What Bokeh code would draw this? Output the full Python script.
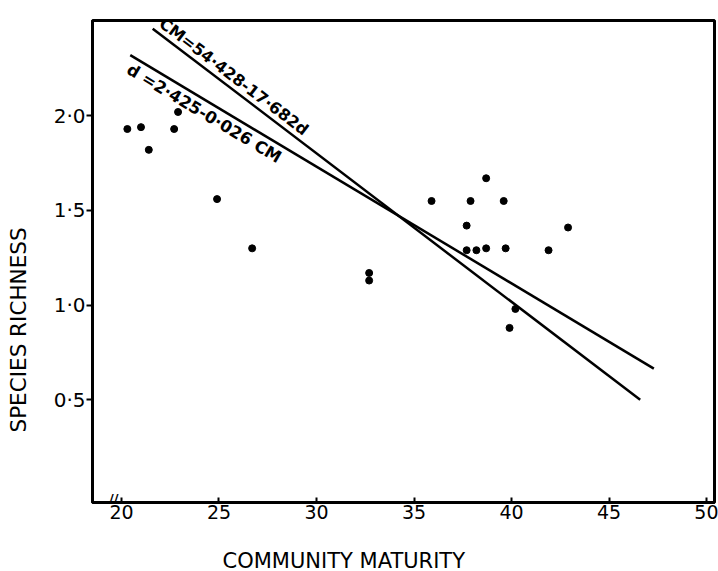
import math
from bokeh.plotting import figure
from bokeh.models import Range1d, FixedTicker, Label, ColumnDataSource, Title
from bokeh.embed import file_html
from bokeh.resources import INLINE

# ---- data ----
community_maturity = [20.3, 21.0, 21.4, 22.9, 22.7, 24.9, 26.7, 32.7, 32.7,
                      35.9, 37.9, 38.7, 39.6, 37.7, 37.7, 38.2, 38.7, 39.7,
                      41.9, 42.9, 40.2, 39.9]
species_richness = [1.93, 1.94, 1.82, 2.02, 1.93, 1.56, 1.30, 1.17, 1.13,
                    1.55, 1.55, 1.67, 1.55, 1.42, 1.29, 1.29, 1.30, 1.30,
                    1.29, 1.41, 0.98, 0.88]

# regression lines (end points)
cm_line_x = [21.6, 46.6]
cm_line_y = [2.46, 0.50]
d_line_x = [20.45, 47.3]
d_line_y = [2.32, 0.665]

cm_eq = "CM=54·428-17·682d"
d_eq = "d =2·425-0·026 CM"

x_ticks = [20, 25, 30, 35, 40, 45, 50]
y_ticks = [0.5, 1.0, 1.5, 2.0]
y_tick_labels = {0.5: "0·5", 1.0: "1·0", 1.5: "1·5", 2.0: "2·0"}

x_title = "COMMUNITY MATURITY"
y_title = "SPECIES RICHNESS"

# ---- figure ----
X0, X1 = 18.513, 50.41
Y0, Y1 = -0.042, 2.503
FW, FH = 622, 482

p = figure(frame_width=FW, frame_height=FH,
           x_range=Range1d(X0, X1), y_range=Range1d(Y0, Y1),
           output_backend="svg", toolbar_location=None,
           min_border_left=92, min_border_right=4,
           min_border_top=20, min_border_bottom=69)

p.xgrid.visible = False
p.ygrid.visible = False
p.background_fill_color = "white"
p.border_fill_color = "white"
p.outline_line_color = "black"
p.outline_line_width = 3
p.outline_line_alpha = 1.0

for ax in (p.xaxis[0], p.yaxis[0]):
    ax.axis_line_width = 3
    ax.axis_line_color = "black"
    ax.major_tick_line_width = 2
    ax.major_tick_line_color = "black"
    ax.minor_tick_line_color = None
    ax.major_label_text_font = "DejaVu Sans"
    ax.major_label_text_color = "black"

p.xaxis.ticker = FixedTicker(ticks=x_ticks)
p.xaxis.major_label_text_font_size = "19px"
p.xaxis.major_tick_in = 5
p.xaxis.major_tick_out = 0
p.xaxis.major_label_standoff = 2

p.yaxis.ticker = FixedTicker(ticks=y_ticks)
p.yaxis.major_label_overrides = y_tick_labels
p.yaxis.major_label_text_font_size = "20px"
p.yaxis.major_tick_in = 0
p.yaxis.major_tick_out = 6
p.yaxis.major_label_standoff = 1

# points
src = ColumnDataSource(dict(x=community_maturity, y=species_richness))
p.scatter("x", "y", source=src, size=7, color="black")

# regression lines
p.line(cm_line_x, cm_line_y, line_color="black", line_width=2.5)
p.line(d_line_x, d_line_y, line_color="black", line_width=2.5)

xs = FW / (X1 - X0)
ys = FH / (Y1 - Y0)
cm_ang = math.atan2((cm_line_y[1] - cm_line_y[0]) * ys, (cm_line_x[1] - cm_line_x[0]) * xs)
d_ang = math.atan2((d_line_y[1] - d_line_y[0]) * ys, (d_line_x[1] - d_line_x[0]) * xs)

def on_line(lx, ly, x):
    t = (x - lx[0]) / (lx[1] - lx[0])
    return ly[0] + t * (ly[1] - ly[0])

cx = cm_line_x[0] + 0.15
p.add_layout(Label(x=cx, y=on_line(cm_line_x, cm_line_y, cx), text=cm_eq,
                   angle=cm_ang, text_align="left", text_baseline="bottom",
                   y_offset=2, text_font="DejaVu Sans", text_font_style="bold",
                   text_font_size="16px", text_color="black"))
dx = d_line_x[0] + 0.15
p.add_layout(Label(x=dx, y=on_line(d_line_x, d_line_y, dx), text=d_eq,
                   angle=d_ang, text_align="left", text_baseline="top",
                   y_offset=-3, text_font="DejaVu Sans", text_font_style="bold",
                   text_font_size="16.5px", text_color="black"))

# axis break mark
p.add_layout(Label(x=19.6, y=-0.02, text="//", text_align="center",
                   text_baseline="middle", text_font="DejaVu Sans",
                   text_font_style="bold", text_font_size="13px",
                   text_color="black"))

# axis titles (a blank spacer title sits between each axis and its title)
shift = 14
try:
    xt = Title(text=x_title, align="left", offset=130, standoff=-shift,
               text_font="DejaVu Sans", text_font_style="normal",
               text_font_size="21px", text_color="black")
except Exception:
    shift = 0
    xt = Title(text=x_title, align="left", offset=130, standoff=0,
               text_font="DejaVu Sans", text_font_style="normal",
               text_font_size="21px", text_color="black")
p.add_layout(Title(text=" ", standoff=15 + shift, text_font_size="1px",
                   text_color="white"), "below")
p.add_layout(xt, "below")

p.add_layout(Title(text=" ", standoff=17, text_font_size="1px",
                   text_color="white"), "left")
p.add_layout(Title(text=y_title, align="left", offset=70, standoff=0,
                   text_font="DejaVu Sans", text_font_style="normal",
                   text_font_size="21.5px", text_color="black"), "left")

open("out.html", "w").write(file_html(p, INLINE))
